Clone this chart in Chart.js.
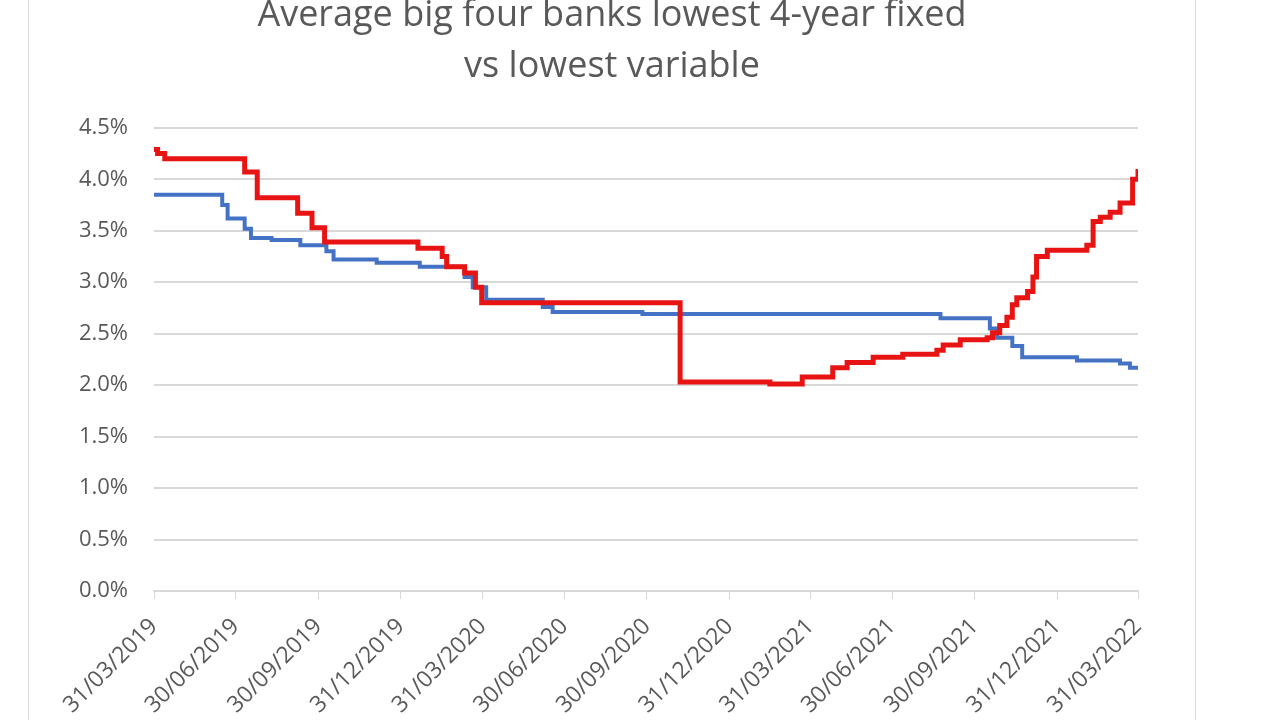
<!DOCTYPE html>
<html>
<head>
<meta charset="utf-8">
<script src="https://cdn.jsdelivr.net/npm/chart.js@4"></script>
<style>
  html, body { margin: 0; padding: 0; background: #fff; overflow: hidden; }
  #box {
    position: absolute; left: 28px; top: -10px;
    width: 1166px; height: 760px;
    border: 1px solid #d9d9d9;
  }
</style>
</head>
<body>
<div id="box"><canvas id="rates" width="1166" height="760"></canvas></div>
<script>
// x values are days since 31/03/2019
const xTickDays = [0, 91, 183, 275, 366, 457, 549, 641, 731, 822, 914, 1006, 1096];
const xTickLabels = ['31/03/2019', '30/06/2019', '30/09/2019', '31/12/2019', '31/03/2020', '30/06/2020',
    '30/09/2020', '31/12/2020', '31/03/2021', '30/06/2021', '30/09/2021', '31/12/2021', '31/03/2022'];

// lowest 4-year fixed (%), each value holds until the next day listed
const fixedDays = [0, 4, 12, 101, 115, 160, 176, 190, 294, 321, 326, 346, 358, 365, 586, 686, 722, 756,
    772, 801, 834, 872, 879, 898, 928, 934, 942, 950, 956, 961, 973, 979, 983, 995, 1039, 1046, 1054,
    1065, 1076, 1090, 1096];
const fixedRates = [4.29, 4.25, 4.20, 4.07, 3.82, 3.67, 3.53, 3.39, 3.33, 3.25, 3.15, 3.09, 2.95, 2.80,
    2.03, 2.01, 2.08, 2.17, 2.22, 2.27, 2.30, 2.34, 2.39, 2.44, 2.46, 2.51, 2.58, 2.66, 2.78, 2.85, 2.91,
    3.05, 3.25, 3.31, 3.36, 3.59, 3.63, 3.68, 3.77, 4.00, 4.10];

// lowest variable (%)
const variableDays = [0, 76, 82, 101, 108, 131, 163, 192, 200, 248, 296, 346, 355, 370, 433, 444, 544,
    876, 931, 939, 956, 967, 1028, 1076, 1087, 1096];
const variableRates = [3.85, 3.75, 3.62, 3.52, 3.43, 3.41, 3.36, 3.30, 3.22, 3.19, 3.15, 3.05, 2.95,
    2.83, 2.76, 2.71, 2.69, 2.65, 2.55, 2.46, 2.38, 2.27, 2.24, 2.21, 2.17, 2.16];

const textGrey = '#595959';
const gridGrey = '#d9d9d9';

function toPoints(days, rates) {
    return days.map((d, i) => ({ x: d, y: rates[i] }));
}

new Chart(document.getElementById('rates'), {
    type: 'line',
    data: {
        datasets: [
            {
                label: 'Lowest 4-year fixed',
                data: toPoints(fixedDays, fixedRates),
                borderColor: '#e81414',
                borderWidth: 5,
                stepped: true,
                pointRadius: 0
            },
            {
                label: 'Lowest variable',
                data: toPoints(variableDays, variableRates),
                borderColor: '#4472c4',
                borderWidth: 4,
                stepped: true,
                pointRadius: 0
            }
        ]
    },
    options: {
        responsive: false,
        animation: false,
        devicePixelRatio: 1,
        layout: { padding: 0 },
        plugins: {
            legend: { display: false },
            tooltip: { enabled: false },
            title: {
                display: true,
                text: ['Average big four banks lowest 4-year fixed', 'vs lowest variable'],
                color: textGrey,
                font: { family: 'Open Sans', size: 36, weight: 'normal', lineHeight: 1.4 },
                padding: { top: 0, bottom: 36 }
            }
        },
        scales: {
            x: {
                type: 'linear',
                min: 0,
                max: 1096,
                afterBuildTicks: scale => { scale.ticks = xTickDays.map(v => ({ value: v })); },
                afterFit: scale => { scale.height = 160; },
                ticks: {
                    autoSkip: false,
                    maxRotation: 45,
                    minRotation: 45,
                    padding: 14,
                    color: textGrey,
                    font: { family: 'Open Sans', size: 23 },
                    callback: value => xTickLabels[xTickDays.indexOf(value)]
                },
                grid: { drawOnChartArea: false, drawTicks: true, tickLength: 8, color: gridGrey },
                border: { color: gridGrey, width: 2 }
            },
            y: {
                min: 0,
                max: 4.5,
                afterFit: scale => { scale.width = 125; },
                ticks: {
                    stepSize: 0.5,
                    padding: 26,
                    color: textGrey,
                    font: { family: 'Open Sans', size: 22 },
                    callback: value => value.toFixed(1) + '%'
                },
                grid: { color: gridGrey, lineWidth: 2, drawTicks: false },
                border: { display: false }
            },
            // empty right-hand axis, only keeps the plot's right margin
            yRight: {
                position: 'right',
                afterFit: scale => { scale.width = 57; },
                ticks: { display: false },
                grid: { display: false },
                border: { display: false }
            }
        }
    }
});
</script>
</body>
</html>
